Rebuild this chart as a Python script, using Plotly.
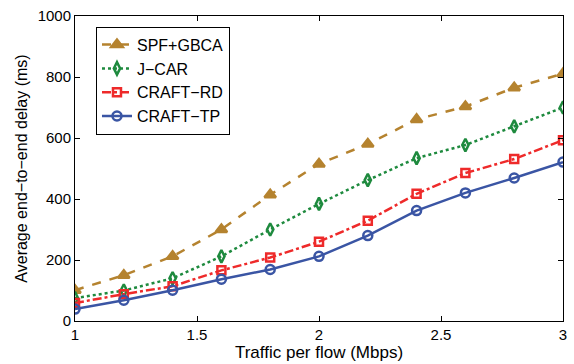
import plotly.graph_objects as go

x = [1.0, 1.2, 1.4, 1.6, 1.8, 2.0, 2.2, 2.4, 2.6, 2.8, 3.0]
spf_gbca = [101, 150, 212, 300, 414, 515, 580, 661, 703, 765, 811]
j_car = [75, 100, 140, 212, 300, 384, 462, 534, 577, 638, 700]
craft_rd = [59, 88, 114, 166, 208, 260, 329, 417, 485, 531, 593]
craft_tp = [39, 68, 101, 137, 169, 212, 280, 362, 420, 469, 521]

names = ["SPF+GBCA", "J\u2212CAR", "CRAFT\u2212RD", "CRAFT\u2212TP"]
series = [spf_gbca, j_car, craft_rd, craft_tp]
colors = ["#B5832F", "#1E8A3E", "#EE2A2A", "#3A55A4"]
dashes = ["dash", "dot", "dashdot", "solid"]
symbols = ["triangle-up", "diamond-tall-open", "square-open", "circle-open"]
sizes = [10, 9, 8, 9]

fig = go.Figure()
for n, s, c, d, sym, sz in zip(names, series, colors, dashes, symbols, sizes):
    fig.add_trace(go.Scatter(
        x=x, y=s, name=n, mode="lines+markers",
        line=dict(color=c, width=2.5, dash=d),
        marker=dict(symbol=sym, size=sz, color=c, line=dict(color=c, width=2.5)),
    ))

axis_common = dict(
    showline=True, linecolor="black", linewidth=1, mirror="ticks",
    ticks="inside", ticklen=5, tickcolor="black", showgrid=False, zeroline=False,
    tickfont=dict(size=15, color="black"),
)

fig.update_layout(
    width=574, height=364,
    margin=dict(l=75, r=7, t=16, b=41),
    paper_bgcolor="white", plot_bgcolor="white",
    font=dict(family="Liberation Sans, Arial, sans-serif", color="black"),
    xaxis=dict(range=[1, 3], tickvals=[1, 1.5, 2, 2.5, 3], ticktext=["1", "1.5", "2", "2.5", "3"],
               title=dict(text="Traffic per flow (Mbps)", font=dict(size=17), standoff=2), **axis_common),
    yaxis=dict(range=[0, 1000], tickvals=[0, 200, 400, 600, 800, 1000],
               title=dict(text="Average end\u2212to\u2212end delay (ms)", font=dict(size=16), standoff=6), **axis_common),
    legend=dict(x=0.043, y=0.965, xanchor="left", yanchor="top",
                bordercolor="black", borderwidth=1, bgcolor="white",
                font=dict(size=16), tracegroupgap=0, itemwidth=30),
    showlegend=True,
)

fig.write_html("out.html")
